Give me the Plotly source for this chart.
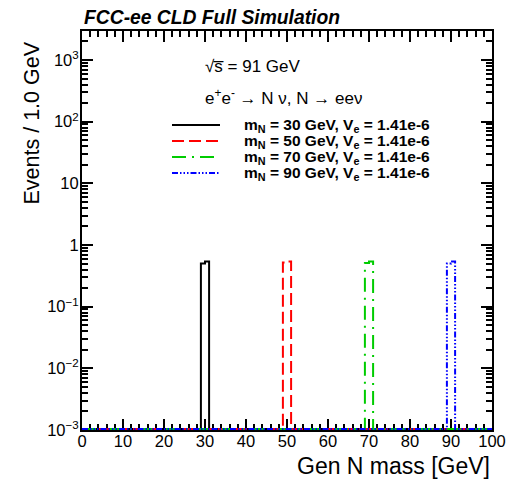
import numpy as np
import plotly.graph_objects as go

# ---- data ----
bin_width = 1.0
x_min, x_max = 0, 100
mass_points = [30, 50, 70, 90]
coupling = ["1.41e-6", "1.41e-6", "1.41e-6", "1.41e-6"]
peak_low_edge = [29, 49, 69, 89]
left_bin_values = [0.50, 0.52, 0.51, 0.50]
right_bin_values = [0.54, 0.54, 0.54, 0.54]
colors = ["#000000", "#ff0000", "#00cc00", "#0000ff"]
dashes = ["solid", "12px,5px", "14px,6px,2px,6px", "6px,2px,1.5px,2px,1.5px,2px,1.5px,2px"]

y_floor = 1e-3          # axis minimum; empty bins are drawn on it
y_floor_draw = 1.04e-3  # keeps the 2px floor line inside the clip area
y_top_log = 3.47

# ---- layout geometry (pixels) ----
W, H = 508, 481
L, R, T, B = 82, 16, 31, 51
PW, PH = W - L - R, H - T - B


def px(xp):
    return (xp - L) / PW


def py(yp):
    return (H - B - yp) / PH


edges = np.arange(x_min, x_max + bin_width, bin_width)
font = "Liberation Sans, Arial, Helvetica, sans-serif"

fig = go.Figure()
legend_rows = [125, 141, 157, 173]
for m, c, lo, vl, vr, col, d, ly in zip(mass_points, coupling, peak_low_edge,
                                        left_bin_values, right_bin_values, colors, dashes,
                                        legend_rows):
    counts = np.zeros(len(edges) - 1)
    i = int((lo - x_min) / bin_width)
    counts[i] = vl
    counts[i + 1] = vr
    y = np.maximum(counts, y_floor_draw)
    y = np.append(y, y[-1])
    label = f"m<sub>N</sub> = {m} GeV, V<sub>e</sub> = {c}"
    fig.add_trace(go.Scatter(
        x=edges, y=y, mode="lines", line=dict(color=col, width=2, dash=d, shape="hv"),
        name=label, showlegend=False,
    ))
    # legend entry (key line + label)
    fig.add_shape(type="line", xref="paper", yref="paper",
                  x0=px(172), x1=px(220), y0=py(ly), y1=py(ly),
                  line=dict(color=col, width=2, dash=d))
    fig.add_annotation(text=f"<b>{label}</b>", xref="paper", yref="paper",
                       x=px(242), y=py(ly), xanchor="left", yanchor="middle",
                       showarrow=False, font=dict(size=15.5, family=font))

decades = list(range(-3, 4))
ytickvals = [10.0 ** k for k in decades]
yticktext = []
for k in decades:
    if k == 0:
        yticktext.append("1")
    elif k == 1:
        yticktext.append("10")
    else:
        yticktext.append("10<sup>" + str(k).replace("-", "\u2212") + "</sup>")
yminor = [j * 10.0 ** k for k in range(-3, 4) for j in range(2, 10)]

fig.update_layout(
    width=W, height=H,
    margin=dict(l=L, r=R, t=T, b=B, autoexpand=False),
    paper_bgcolor="white", plot_bgcolor="white",
    font=dict(family=font, color="black", size=16),
    showlegend=False,
    xaxis=dict(range=[x_min, x_max], showline=True, linecolor="black", linewidth=2,
               mirror="allticks", ticks="inside", ticklen=11, tickwidth=1.5,
               tickcolor="black", dtick=10, tick0=0, showgrid=False, zeroline=False,
               tickfont=dict(size=16.5), automargin=False, layer="below traces",
               ticklabelstandoff=-5,
               minor=dict(ticks="inside", ticklen=6, tickwidth=1.5, dtick=2, tickcolor="black",
                          showgrid=False)),
    yaxis=dict(type="log", range=[-3, y_top_log], showline=True, linecolor="black", linewidth=2,
               mirror="allticks", ticks="inside", ticklen=11, tickwidth=1.5,
               tickcolor="black", tickvals=ytickvals, ticktext=yticktext,
               showgrid=False, zeroline=False, tickfont=dict(size=16.5), automargin=False,
               ticklabelstandoff=-2,
               minor=dict(ticks="inside", ticklen=6, tickwidth=1.5, tickvals=yminor,
                          tickcolor="black", showgrid=False)),
)

fig.add_annotation(text="<b><i>FCC-ee CLD Full Simulation</i></b>", xref="paper", yref="paper",
                   x=0, y=1, xanchor="left", yanchor="bottom", yshift=1, showarrow=False,
                   font=dict(size=19.3, family=font))
fig.add_annotation(text="Events / 1.0 GeV", xref="paper", yref="paper",
                   x=px(31), y=py(40), textangle=-90, xanchor="center",
                   yanchor="top", showarrow=False, font=dict(size=21.5, family=font))
fig.add_annotation(text="Gen N mass [GeV]", xref="paper", yref="paper",
                   x=px(492), y=py(466), xanchor="right", yanchor="middle", showarrow=False,
                   font=dict(size=23, family=font))
fig.add_annotation(text="\u221as\u0305 = 91 GeV", xref="paper", yref="paper",
                   x=px(203), y=py(66), xanchor="left", yanchor="middle",
                   showarrow=False, font=dict(size=17, family=font))
fig.add_annotation(text="e<sup>+</sup>e<sup>-</sup> \u2192 N \u03bd, N \u2192 ee\u03bd",
                   xref="paper", yref="paper",
                   x=px(203), y=py(97), xanchor="left", yanchor="middle",
                   showarrow=False, font=dict(size=17, family=font))

fig.write_html("out.html", config={"displayModeBar": False},
               post_script="document.body.style.margin='0';"
               "document.body.style.padding='0';window.dispatchEvent(new Event('resize'));")
